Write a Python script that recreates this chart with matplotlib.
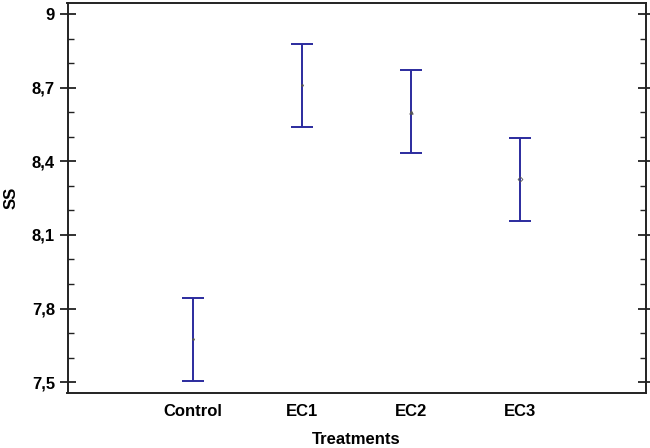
import matplotlib
matplotlib.use("Agg")
import matplotlib.pyplot as plt
from matplotlib.ticker import FixedLocator, MultipleLocator

categories = ["Control", "EC1", "EC2", "EC3"]
means = [7.676, 8.711, 8.602, 8.327]
lower = [7.506, 8.539, 8.433, 8.156]
upper = [7.845, 8.878, 8.773, 8.495]
ytick_vals = [7.5, 7.8, 8.1, 8.4, 8.7, 9.0]
ytick_labels = ["7,5", "7,8", "8,1", "8,4", "8,7", "9"]
markers = [".", ".", "^", "D"]

plt.rcParams['font.family'] = ['Liberation Sans', 'DejaVu Sans']

fig = plt.figure(figsize=(6.5, 4.48), dpi=100)
ax = fig.add_axes([67.5/650, 1 - 393/448, (645.5-67.5)/650, (393-3)/448])

x = list(range(len(categories)))
blue = "#2b2b9e"
for i in x:
    ax.errorbar([i], [means[i]], yerr=[[means[i]-lower[i]], [upper[i]-means[i]]],
                fmt='none', ecolor=blue, elinewidth=1.4, capsize=7.8, capthick=1.4)
    ax.plot([i], [means[i]], marker=markers[i], markersize=2.5, color="#555555",
            markerfacecolor="none" if markers[i] == "D" else "#555555", linestyle="none",
            markeredgewidth=0.6)

ax.set_xlim(-1.15, 4.15)
ax.set_ylim(7.456, 9.045)
ax.set_xticks(x)
ax.set_xticklabels(categories, fontsize=12, fontweight='bold')
ax.yaxis.set_major_locator(FixedLocator(ytick_vals))
ax.set_yticklabels(ytick_labels, fontsize=12, fontweight='bold')
ax.yaxis.set_minor_locator(MultipleLocator(0.1))
ax.tick_params(axis='x', length=0, pad=8)
ax.tick_params(axis='y', which='major', direction='inout', length=12, width=1.3, pad=3,
               right=True, color="#222222")
ax.tick_params(axis='y', which='minor', direction='in', length=4.3, width=1.0,
               right=True, color="#222222")
for s in ax.spines.values():
    s.set_linewidth(1.4)
    s.set_color("#222222")

ax.set_xlabel("Treatments", fontsize=12, fontweight='bold', labelpad=9)
ax.set_ylabel("SS", fontsize=12, fontweight='bold', va='center')
ax.yaxis.set_label_coords(-(67.5 - 11) / 578, 0.5)

fig.savefig("out.png", dpi=100)
